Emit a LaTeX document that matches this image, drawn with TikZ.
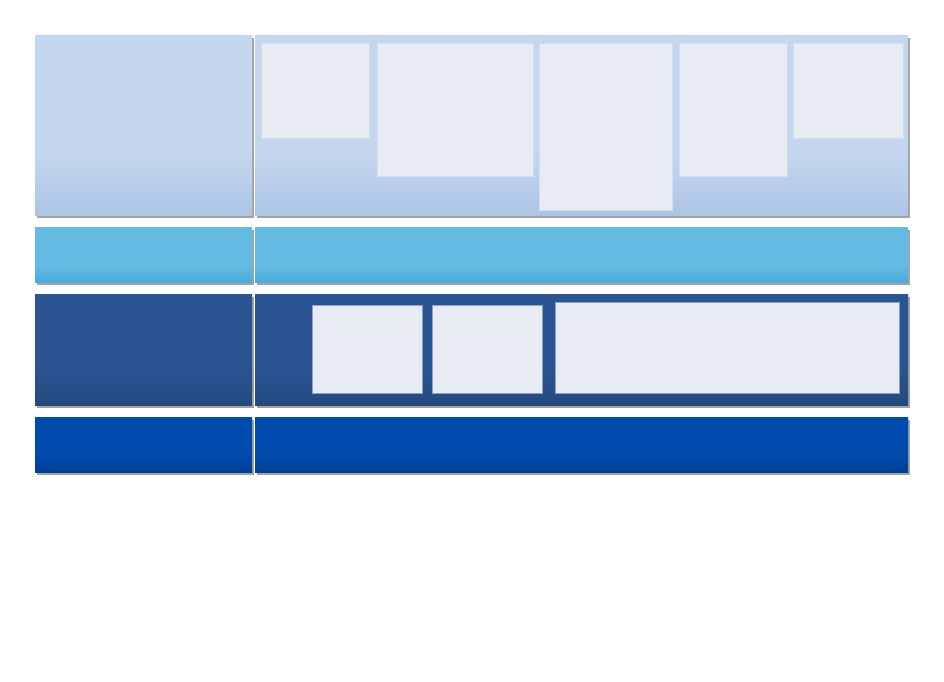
\documentclass[tikz,border=0pt]{standalone}
\usetikzlibrary{shadows}

\definecolor{paleTop}{RGB}{197,215,238}
\definecolor{paleBot}{RGB}{172,197,229}
\definecolor{skyTop}{RGB}{99,186,227}
\definecolor{skyBot}{RGB}{70,172,222}
\definecolor{navyTop}{RGB}{42,85,146}
\definecolor{navyBot}{RGB}{36,73,127}
\definecolor{royalTop}{RGB}{0,74,173}
\definecolor{royalBot}{RGB}{0,62,148}
\definecolor{cellFill}{RGB}{231,235,244}
\definecolor{cellEdge}{RGB}{210,222,240}
\definecolor{cellEdgeDark}{RGB}{140,160,198}

% flat upper part, darker lower third
\pgfdeclareverticalshading{paleShade}{100bp}{color(0bp)=(paleBot); color(25bp)=(paleBot); color(43bp)=(paleTop); color(100bp)=(paleTop)}
\pgfdeclareverticalshading{skyShade}{100bp}{color(0bp)=(skyBot); color(25bp)=(skyBot); color(40bp)=(skyTop); color(100bp)=(skyTop)}
\pgfdeclareverticalshading{navyShade}{100bp}{color(0bp)=(navyBot); color(25bp)=(navyBot); color(42bp)=(navyTop); color(100bp)=(navyTop)}
\pgfdeclareverticalshading{royalShade}{100bp}{color(0bp)=(royalBot); color(25bp)=(royalBot); color(40bp)=(royalTop); color(100bp)=(royalTop)}

\begin{document}
\begin{tikzpicture}[x=1pt,y=-1pt]
	\tikzset{layer/.style={rectangle, draw=none, anchor=north west, inner sep=0pt, outer sep=0pt,
		drop shadow={shadow xshift=1.5pt, shadow yshift=-2.5pt, opacity=0.6, fill=black!60}}}
	\tikzset{pale/.style={layer, shading=paleShade}}
	\tikzset{sky/.style={layer, shading=skyShade}}
	\tikzset{navy/.style={layer, shading=navyShade}}
	\tikzset{royal/.style={layer, shading=royalShade}}
	\tikzset{cell/.style={rectangle, anchor=north west, inner sep=0pt, fill=cellFill, draw=cellEdge, line width=0.8pt}}
	\tikzset{cellD/.style={cell, draw=cellEdgeDark}}
	\useasboundingbox[fill=white] (0,0) rectangle (944,681);
	% first layer
	\node[pale, minimum width=217pt, minimum height=180pt] (paleL) at (35,35) {};
	\node[pale, minimum width=653pt, minimum height=180pt] (paleR) at (255,35) {};
	\node[cell, minimum width=108pt, minimum height=95pt] (paleA) at (261,43) {};
	\node[cell, minimum width=156pt, minimum height=133pt] (paleB) at (377,43) {};
	\node[cell, minimum width=133pt, minimum height=167pt] (paleC) at (539,43) {};
	\node[cell, minimum width=108pt, minimum height=133pt] (paleD) at (679,43) {};
	\node[cell, minimum width=110pt, minimum height=95pt] (paleE) at (793,43) {};
	% second layer
	\node[sky, minimum width=217pt, minimum height=55pt] (skyL) at (35,227) {};
	\node[sky, minimum width=653pt, minimum height=55pt] (skyR) at (255,227) {};
	% third layer
	\node[navy, minimum width=217pt, minimum height=111pt] (navyL) at (35,294) {};
	\node[navy, minimum width=653pt, minimum height=111pt] (navyR) at (255,294) {};
	\node[cellD, minimum width=110pt, minimum height=88pt] (navyA) at (312,305) {};
	\node[cellD, minimum width=110pt, minimum height=88pt] (navyB) at (432,305) {};
	\node[cellD, minimum width=344pt, minimum height=91pt] (navyC) at (555,302) {};
	% fourth layer
	\node[royal, minimum width=217pt, minimum height=55pt] (royalL) at (35,417) {};
	\node[royal, minimum width=653pt, minimum height=55pt] (royalR) at (255,417) {};
\end{tikzpicture}
\end{document}
